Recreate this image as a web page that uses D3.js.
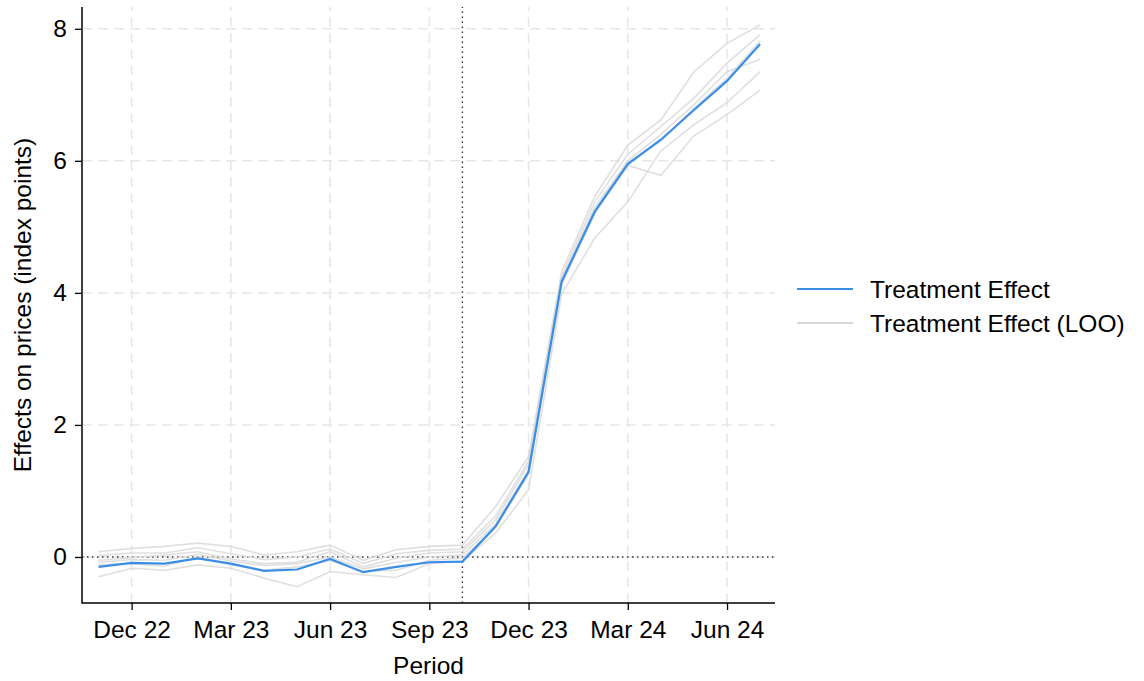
<!DOCTYPE html>
<html>
<head>
<meta charset="utf-8">
<script src="https://cdn.jsdelivr.net/npm/d3@7"></script>
<style>
  html, body { margin: 0; padding: 0; background: #fff; }
  svg text { font-family: "Liberation Sans", Arial, sans-serif; fill: #000; }
</style>
</head>
<body>
<svg id="chart" width="1144" height="681"></svg>
<script>
// ---- Data ----
const months = ["Nov 22","Dec 22","Jan 23","Feb 23","Mar 23","Apr 23","May 23","Jun 23","Jul 23","Aug 23","Sep 23","Oct 23",
                "Nov 23","Dec 23","Jan 24","Feb 24","Mar 24","Apr 24","May 24","Jun 24","Jul 24"];
const tickMonths = ["Dec 22","Mar 23","Jun 23","Sep 23","Dec 23","Mar 24","Jun 24"];
const yTicks = [0, 2, 4, 6, 8];
const treatmentMonth = "Oct 23";

const treatmentEffect = [-0.15,-0.09,-0.10,-0.02,-0.10,-0.21,-0.19,-0.03,-0.23,-0.15,-0.08,-0.07,
                         0.46,1.29,4.17,5.23,5.95,6.32,6.77,7.21,7.77];

const loo1 = [0.08,0.13,0.16,0.21,0.16,0.03,0.08,0.18,-0.05,0.11,0.16,0.18, 0.76,1.52,4.32,5.46,6.24,6.62,7.35,7.78,8.06];
const loo2 = [0.02,0.06,0.06,0.14,0.05,-0.04,0.00,0.12,-0.10,0.05,0.10,0.12, 0.62,1.45,4.25,5.38,6.10,6.52,6.95,7.48,7.91];
const loo3 = [-0.05,-0.01,0.03,0.08,-0.03,-0.10,-0.08,0.08,-0.15,-0.02,0.06,0.08, 0.56,1.40,4.20,5.30,6.00,6.40,6.85,7.35,7.54];
const loo4 = [-0.08,-0.04,-0.05,0.04,-0.06,-0.13,-0.10,0.00,-0.18,-0.08,0.00,0.03, 0.50,1.32,4.18,5.25,5.97,6.30,6.80,7.25,7.82];
const loo5 = [-0.12,-0.10,-0.14,0.00,-0.12,-0.20,-0.15,-0.05,-0.22,-0.20,-0.05,-0.02, 0.45,1.25,4.12,5.20,5.93,5.78,6.38,6.70,7.07];
const loo6 = [-0.30,-0.17,-0.20,-0.12,-0.17,-0.32,-0.45,-0.22,-0.27,-0.31,-0.10,-0.06, 0.36,1.02,3.98,4.83,5.38,6.15,6.55,6.88,7.35];
const looSeries = [loo1, loo2, loo3, loo4, loo5, loo6];

// ---- Layout ----
const svg = d3.select("#chart");
const FONT = 24.5;
const blue = "#3a8ee6";
const grey = "#d9d9d9";

const x = d3.scaleLinear().domain([-0.5, 20.45]).range([82, 775]);
const y = d3.scaleLinear().domain([-0.697, 8.33]).range([603, 7]);
const xi = m => x(months.indexOf(m));

// grid
const grid = svg.append("g");
grid.selectAll("line.h").data(yTicks).enter().append("line")
  .attr("x1", x.range()[0]).attr("x2", x.range()[1])
  .attr("y1", d => y(d)).attr("y2", d => y(d))
  .attr("stroke", "#e6e6e6").attr("stroke-width", 1.5).attr("stroke-dasharray", "10,6");
grid.selectAll("line.v").data(tickMonths).enter().append("line")
  .attr("x1", d => xi(d)).attr("x2", d => xi(d))
  .attr("y1", y.range()[0]).attr("y2", y.range()[1])
  .attr("stroke", "#e6e6e6").attr("stroke-width", 1.5).attr("stroke-dasharray", "10,6");

// reference lines
svg.append("line")
  .attr("x1", x.range()[0]).attr("x2", x.range()[1])
  .attr("y1", y(0)).attr("y2", y(0))
  .attr("stroke", "#333").attr("stroke-width", 1.4).attr("stroke-dasharray", "1.5,3.5");
svg.append("line")
  .attr("x1", xi(treatmentMonth)).attr("x2", xi(treatmentMonth))
  .attr("y1", y.range()[0]).attr("y2", y.range()[1])
  .attr("stroke", "#333").attr("stroke-width", 1.4).attr("stroke-dasharray", "1.5,3.5");

// lines
const line = d3.line().x((d, i) => x(i)).y(d => y(d));
svg.append("g").selectAll("path").data(looSeries).enter().append("path")
  .attr("d", line).attr("fill", "none").attr("stroke", grey).attr("stroke-width", 1.6)
  .attr("stroke-opacity", 0.85);
svg.append("path").datum(treatmentEffect)
  .attr("d", line).attr("fill", "none").attr("stroke", blue).attr("stroke-width", 2.2);

// axes
const xAxis = d3.axisBottom(x)
  .tickValues(tickMonths.map(m => months.indexOf(m)))
  .tickFormat(i => months[i]).tickSizeOuter(0).tickSize(7).tickPadding(11);
const gx = svg.append("g").attr("transform", `translate(0,${y.range()[0]})`).call(xAxis);
const yAxis = d3.axisLeft(y).tickValues(yTicks).tickFormat(d3.format("d"))
  .tickSizeOuter(0).tickSize(7).tickPadding(8);
const gy = svg.append("g").attr("transform", `translate(${x.range()[0]},0)`).call(yAxis);
[gx, gy].forEach(g => {
  g.select(".domain").remove();
  g.selectAll(".tick line").attr("stroke", "#000").attr("stroke-width", 1.3);
  g.selectAll(".tick text").attr("font-size", FONT).attr("font-family", "Liberation Sans, Arial, sans-serif").attr("fill", "#000");
});
svg.append("path")
  .attr("d", `M${x.range()[0]},${y.range()[1]}V${y.range()[0]}H${x.range()[1]}`)
  .attr("fill", "none").attr("stroke", "#000").attr("stroke-width", 1.5);

// axis titles
svg.append("text").attr("x", (x.range()[0] + x.range()[1]) / 2).attr("y", 674)
  .attr("text-anchor", "middle").attr("font-size", FONT).text("Period");
svg.append("text").attr("transform", `translate(31,${(y.range()[0] + y.range()[1]) / 2}) rotate(-90)`)
  .attr("text-anchor", "middle").attr("font-size", FONT).text("Effects on prices (index points)");

// legend
const legendItems = [
  { label: "Treatment Effect", color: blue, w: 2.2 },
  { label: "Treatment Effect (LOO)", color: grey, w: 1.8 }
];
const lg = svg.append("g").attr("transform", "translate(797,289)");
const li = lg.selectAll("g").data(legendItems).enter().append("g")
  .attr("transform", (d, i) => `translate(0,${i * 34})`);
li.append("line").attr("x1", 0).attr("x2", 56).attr("y1", 0).attr("y2", 0)
  .attr("stroke", d => d.color).attr("stroke-width", d => d.w);
li.append("text").attr("x", 73).attr("y", 0).attr("dy", "0.35em")
  .attr("font-size", FONT).text(d => d.label);
</script>
</body>
</html>
